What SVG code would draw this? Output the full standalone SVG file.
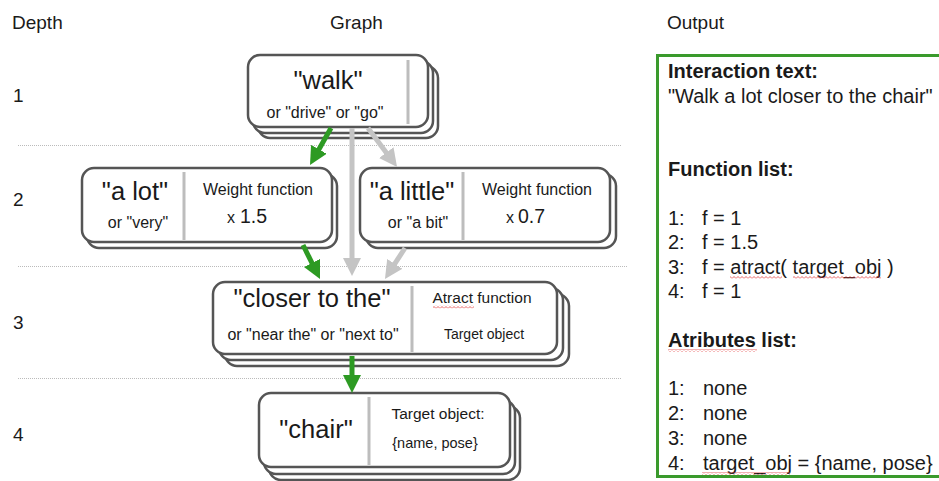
<svg xmlns="http://www.w3.org/2000/svg" width="939" height="481" viewBox="0 0 939 481">
<style>
text{font-family:"Liberation Sans",Arial,sans-serif;fill:#1a1a1a}
.hdr{font-size:19px}
.big{font-size:25.5px;text-anchor:middle}
.alt{font-size:16px;text-anchor:middle}
.fn{font-size:15.5px;text-anchor:middle}
.out{font-size:20px}
.bold{font-weight:bold}
.box{fill:#fff;stroke:#555;stroke-width:2.5}
.div{stroke:#bdbdbd;stroke-width:3}
.sep{stroke:#bbb;stroke-width:1;stroke-dasharray:1 1}
.g{stroke:#2d9a23;stroke-width:5;fill:none}
.gr{stroke:#c4c4c4;stroke-width:5;fill:none}
</style>
<defs>
<marker id="ahG" viewBox="0 0 18 18" refX="1" refY="9" markerWidth="18" markerHeight="18" markerUnits="userSpaceOnUse" orient="auto"><path d="M0,0 L18,9 L0,18 z" fill="#2d9a23"/></marker>
<marker id="ahGr" viewBox="0 0 18 18" refX="1" refY="9" markerWidth="18" markerHeight="18" markerUnits="userSpaceOnUse" orient="auto"><path d="M0,0 L18,9 L0,18 z" fill="#c4c4c4"/></marker>
<pattern id="squig" patternUnits="userSpaceOnUse" width="4" height="3"><path d="M0,2.5 L2,0.5 L4,2.5" fill="none" stroke="#e23b3b" stroke-width="0.8"/></pattern>
</defs>
<rect width="939" height="481" fill="#fff"/>

<g id="headers">
<text class="hdr" x="12" y="29">Depth</text>
<text class="hdr" x="330" y="29">Graph</text>
<text class="hdr" x="667" y="29">Output</text>
<text class="hdr" x="13" y="102">1</text>
<text class="hdr" x="13" y="206">2</text>
<text class="hdr" x="13" y="329">3</text>
<text class="hdr" x="13" y="441">4</text>
</g>

<g id="separators">
<line class="sep" x1="18" y1="145.5" x2="622" y2="145.5"/>
<line class="sep" x1="18" y1="266.5" x2="627" y2="266.5"/>
<line class="sep" x1="18" y1="378.5" x2="622" y2="378.5"/>
</g>

<g id="node-walk">
<rect class="box" x="258" y="66" width="180" height="72" rx="12"/>
<rect class="box" x="253" y="61" width="180" height="72" rx="12"/>
<rect class="box" x="248" y="55" width="180" height="72" rx="12"/>
<line class="div" x1="408" y1="60" x2="408" y2="124"/>
<text class="big" x="328" y="89">"walk"</text>
<text class="alt" x="325" y="118">or "drive" or "go"</text>
</g>

<g id="node-alot">
<rect class="box" x="87" y="174" width="250" height="74" rx="12"/>
<rect class="box" x="82" y="168" width="250" height="74" rx="12"/>
<line class="div" x1="184" y1="172" x2="184" y2="240"/>
<text class="big" x="135" y="200">"a lot"</text>
<text class="alt" x="138" y="228">or "very"</text>
<text class="alt" x="258" y="195">Weight function</text>
<text x="227" y="223" style="font-size:16px">x</text>
<text x="240" y="223" style="font-size:19.5px">1.5</text>
</g>

<g id="node-alittle">
<rect class="box" x="366" y="174" width="250" height="74" rx="12"/>
<rect class="box" x="360" y="168" width="250" height="74" rx="12"/>
<line class="div" x1="463" y1="172" x2="463" y2="240"/>
<text class="big" x="412" y="200">"a little"</text>
<text class="alt" x="418" y="228">or "a bit"</text>
<text class="alt" x="537" y="195">Weight function</text>
<text x="506" y="223" style="font-size:16px">x</text>
<text x="518" y="223" style="font-size:19.5px">0.7</text>
</g>

<g id="node-closer">
<rect class="box" x="225" y="294" width="344" height="72" rx="12"/>
<rect class="box" x="219" y="288" width="344" height="72" rx="12"/>
<rect class="box" x="213" y="282" width="344" height="72" rx="12"/>
<line class="div" x1="412" y1="286" x2="412" y2="352"/>
<text class="big" x="312" y="307">"closer to the"</text>
<text class="alt" x="313" y="340">or "near the" or "next to"</text>
<text class="fn" x="482" y="303">Atract function</text>
<rect x="433" y="305.5" width="41" height="3" fill="url(#squig)"/>
<text x="484" y="339" style="font-size:14px;text-anchor:middle">Target object</text>
</g>

<g id="node-chair">
<rect class="box" x="269" y="406" width="251" height="74" rx="12"/>
<rect class="box" x="264" y="400" width="251" height="74" rx="12"/>
<rect class="box" x="259" y="393" width="251" height="74" rx="12"/>
<line class="div" x1="369" y1="397" x2="369" y2="465"/>
<text class="big" x="316" y="438">"chair"</text>
<text class="fn" x="438" y="419">Target object:</text>
<text x="435" y="448" style="font-size:14.5px;text-anchor:middle">{name, pose}</text>
</g>

<g id="connectors">
<line class="g" x1="331" y1="128" x2="318.4" y2="150.2" marker-end="url(#ahG)"/>
<line class="gr" x1="352" y1="128" x2="352" y2="259" marker-end="url(#ahGr)"/>
<line class="gr" x1="368" y1="128" x2="386.9" y2="153.4" marker-end="url(#ahGr)"/>
<line class="g" x1="303" y1="245" x2="312.4" y2="263.8" marker-end="url(#ahG)"/>
<line class="gr" x1="405" y1="248" x2="394.2" y2="264.7" marker-end="url(#ahGr)"/>
<line class="g" x1="352" y1="356" x2="352" y2="376" marker-end="url(#ahG)"/>
</g>

<g id="output">
<rect x="657.5" y="55.5" width="290" height="421" fill="none" stroke="#3a9a2c" stroke-width="3"/>
<text class="out bold" x="668" y="78">Interaction text:</text>
<text class="out" x="668" y="103">"Walk a lot closer to the chair"</text>
<text class="out bold" x="668" y="176">Function list:</text>
<text class="out" x="668" y="225">1:</text><text class="out" x="702" y="225">f = 1</text>
<text class="out" x="668" y="249">2:</text><text class="out" x="702" y="249">f = 1.5</text>
<text class="out" x="668" y="274">3:</text><text class="out" x="702" y="274">f = atract( target_obj )</text>
<text class="out" x="668" y="298">4:</text><text class="out" x="702" y="298">f = 1</text>
<text class="out bold" x="668" y="347">Atributes list:</text>
<text class="out" x="668" y="395">1:</text><text class="out" x="703" y="395">none</text>
<text class="out" x="668" y="420">2:</text><text class="out" x="703" y="420">none</text>
<text class="out" x="668" y="445">3:</text><text class="out" x="703" y="445">none</text>
<text class="out" x="668" y="470">4:</text><text class="out" x="703" y="470">target_obj = {name, pose}</text>
<rect x="730" y="276" width="52" height="3" fill="url(#squig)"/>
<rect x="793" y="276" width="88" height="3" fill="url(#squig)"/>
<rect x="668" y="349" width="89" height="3" fill="url(#squig)"/>
<rect x="702" y="472" width="88" height="3" fill="url(#squig)"/>
</g>
</svg>
